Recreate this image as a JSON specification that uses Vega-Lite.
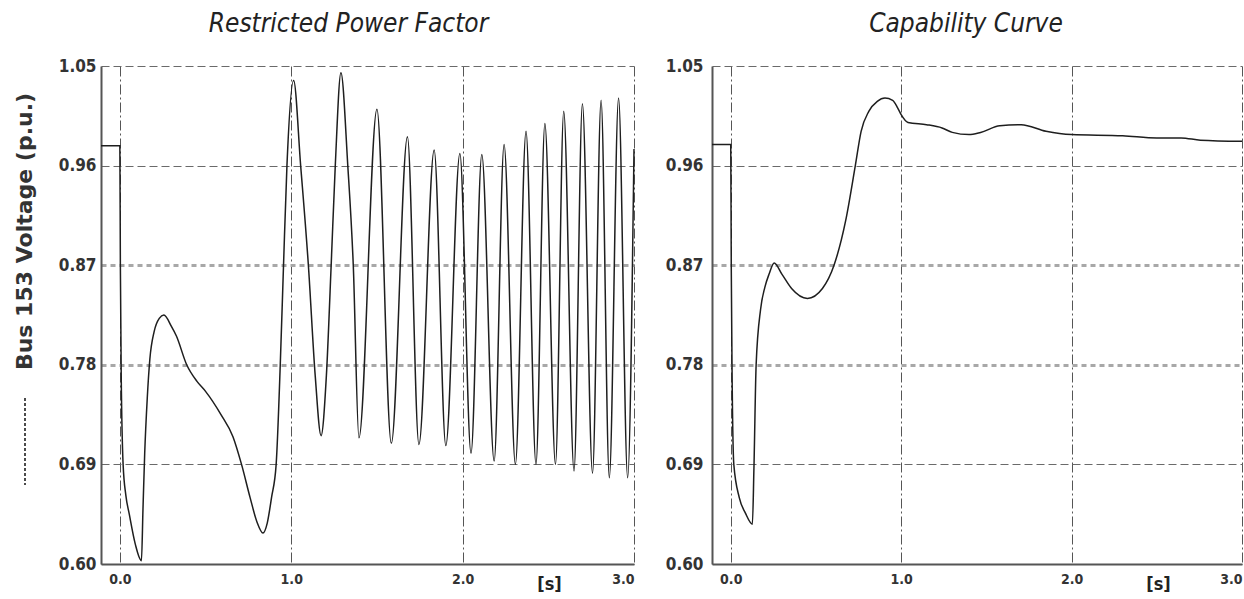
{
  "$schema": "https://vega.github.io/schema/vega-lite/v6.json",
  "background": "white",
  "padding": {"left": 13, "top": 11, "right": 0, "bottom": 0},
  "bounds": "flush",
  "spacing": 78,
  "config": {
    "view": {"stroke": null},
    "title": {"font": "DejaVu Sans Condensed", "fontStyle": "italic", "fontWeight": "normal", "fontSize": 26, "color": "#222222", "anchor": "middle", "offset": 20},
    "axis": {"domainColor": "#555555", "domainWidth": 2, "ticks": false, "gridColor": "#666666", "gridDash": [8, 4], "gridWidth": 1, "labelFont": "DejaVu Sans Condensed", "labelFontWeight": "bold", "labelColor": "#333333"}
  },
  "datasets": {
    "rpf": [
      {"t": -0.11, "v": 0.978}, {"t": 0.0, "v": 0.978}, {"t": 0.003, "v": 0.87}, {"t": 0.008, "v": 0.77},
      {"t": 0.019, "v": 0.69}, {"t": 0.035, "v": 0.662}, {"t": 0.055, "v": 0.645}, {"t": 0.09, "v": 0.618},
      {"t": 0.126, "v": 0.603}, {"t": 0.135, "v": 0.65}, {"t": 0.145, "v": 0.70}, {"t": 0.16, "v": 0.75},
      {"t": 0.175, "v": 0.785}, {"t": 0.2, "v": 0.81}, {"t": 0.23, "v": 0.822}, {"t": 0.257, "v": 0.825},
      {"t": 0.3, "v": 0.815}, {"t": 0.33, "v": 0.806}, {"t": 0.39, "v": 0.78}, {"t": 0.45, "v": 0.765},
      {"t": 0.5, "v": 0.756}, {"t": 0.59, "v": 0.735}, {"t": 0.66, "v": 0.715}, {"t": 0.71, "v": 0.69},
      {"t": 0.76, "v": 0.66}, {"t": 0.8, "v": 0.638}, {"t": 0.835, "v": 0.628}, {"t": 0.86, "v": 0.637},
      {"t": 0.885, "v": 0.66}, {"t": 0.912, "v": 0.69}, {"t": 0.936, "v": 0.78}, {"t": 0.955, "v": 0.87},
      {"t": 0.975, "v": 0.96}, {"t": 1.014, "v": 1.037}, {"t": 1.055, "v": 0.96}, {"t": 1.1, "v": 0.87},
      {"t": 1.14, "v": 0.77}, {"t": 1.174, "v": 0.716}, {"t": 1.205, "v": 0.77}, {"t": 1.233, "v": 0.87},
      {"t": 1.257, "v": 0.96}, {"t": 1.29, "v": 1.044}, {"t": 1.33, "v": 0.96}, {"t": 1.362, "v": 0.87},
      {"t": 1.395, "v": 0.714}, {"t": 1.5, "v": 1.011}, {"t": 1.584, "v": 0.709}, {"t": 1.678, "v": 0.986},
      {"t": 1.745, "v": 0.708}, {"t": 1.834, "v": 0.974}, {"t": 1.902, "v": 0.707}, {"t": 1.984, "v": 0.971},
      {"t": 2.049, "v": 0.700}, {"t": 2.112, "v": 0.970}, {"t": 2.184, "v": 0.693}, {"t": 2.242, "v": 0.979},
      {"t": 2.308, "v": 0.690}, {"t": 2.37, "v": 0.991}, {"t": 2.428, "v": 0.690}, {"t": 2.48, "v": 0.998},
      {"t": 2.542, "v": 0.690}, {"t": 2.59, "v": 1.009}, {"t": 2.65, "v": 0.684}, {"t": 2.699, "v": 1.016},
      {"t": 2.758, "v": 0.682}, {"t": 2.808, "v": 1.019}, {"t": 2.856, "v": 0.678}, {"t": 2.91, "v": 1.021},
      {"t": 2.963, "v": 0.678}, {"t": 3.0, "v": 0.975}
    ],
    "cap": [
      {"t": -0.11, "v": 0.979}, {"t": 0.0, "v": 0.979}, {"t": 0.003, "v": 0.87}, {"t": 0.008, "v": 0.77},
      {"t": 0.018, "v": 0.69}, {"t": 0.05, "v": 0.66}, {"t": 0.086, "v": 0.646}, {"t": 0.127, "v": 0.636},
      {"t": 0.136, "v": 0.686}, {"t": 0.149, "v": 0.78}, {"t": 0.175, "v": 0.83}, {"t": 0.2, "v": 0.85},
      {"t": 0.225, "v": 0.862}, {"t": 0.255, "v": 0.872}, {"t": 0.3, "v": 0.862}, {"t": 0.357, "v": 0.849},
      {"t": 0.45, "v": 0.84}, {"t": 0.538, "v": 0.849}, {"t": 0.606, "v": 0.87}, {"t": 0.674, "v": 0.91},
      {"t": 0.731, "v": 0.96}, {"t": 0.765, "v": 0.991}, {"t": 0.81, "v": 1.009}, {"t": 0.86, "v": 1.018},
      {"t": 0.905, "v": 1.021}, {"t": 0.95, "v": 1.019}, {"t": 0.98, "v": 1.012}, {"t": 1.0, "v": 1.006},
      {"t": 1.04, "v": 0.999}, {"t": 1.149, "v": 0.997}, {"t": 1.24, "v": 0.994}, {"t": 1.3, "v": 0.99},
      {"t": 1.398, "v": 0.988}, {"t": 1.466, "v": 0.99}, {"t": 1.579, "v": 0.996}, {"t": 1.704, "v": 0.997},
      {"t": 1.85, "v": 0.991}, {"t": 2.0, "v": 0.988}, {"t": 2.3, "v": 0.987}, {"t": 2.5, "v": 0.985},
      {"t": 2.643, "v": 0.985}, {"t": 2.756, "v": 0.983}, {"t": 3.0, "v": 0.982}
    ]
  },
  "hconcat": [
    {
      "width": 533,
      "height": 498,
      "title": {"text": "Restricted Power Factor", "dx": -19},
      "data": {"name": "rpf"},
      "mark": {"type": "line", "interpolate": "monotone", "strokeWidth": 1.5},
      "encoding": {
        "x": {
          "field": "t", "type": "quantitative",
          "scale": {"domain": [-0.11, 3.0], "nice": false, "zero": false},
          "axis": {"values": [0, 1, 2, 3], "format": ".1f", "labelFontSize": 14, "labelPadding": 8, "gridDash": [10, 3, 2, 3], "gridColor": "#555555",
                   "title": "[s]", "titleFont": "DejaVu Sans Condensed", "titleFontSize": 18, "titleFontWeight": "bold", "titleColor": "#222222",
                   "titleX": 448, "titleY": 20, "titleBaseline": "middle", "titleAlign": "center"}
        },
        "y": {
          "field": "v", "type": "quantitative",
          "scale": {"domain": [0.6, 1.05], "nice": false, "zero": false},
          "axis": {"values": [0.6, 0.69, 0.78, 0.87, 0.96, 1.05], "format": ".2f", "labelFontSize": 17, "labelPadding": 5,
                   "title": "Bus 153 Voltage (p.u.)", "titleFont": "DejaVu Sans", "titleFontSize": 22, "titleFontWeight": "bold", "titleColor": "#333333",
                   "titleX": -77, "titleY": 165, "titleAngle": -90, "titleAlign": "center", "titleBaseline": "middle",
                   "gridWidth": {"condition": {"test": "datum.value > 0.77 && datum.value < 0.88", "value": 3}, "value": 1.2},
                   "gridColor": {"condition": {"test": "datum.value > 0.77 && datum.value < 0.88", "value": "#a8a8a8"}, "value": "#6a6a6a"},
                   "gridDash": {"condition": {"test": "datum.value > 0.77 && datum.value < 0.88", "value": [5, 4]}, "value": [8, 4]}}
        },
        "color": {
          "datum": "Bus 153 Voltage (p.u.)",
          "scale": {"range": ["#1e1e1e"]},
          "legend": {"orient": "none", "legendX": -77, "legendY": 331, "title": null, "labelExpr": "''", "symbolType": "M-1,-1L-1,1", "symbolSize": 7569, "symbolStrokeWidth": 1.6, "symbolDash": [3, 2], "symbolStrokeColor": "#222222", "padding": 0}
        }
      }
    },
    {
      "width": 530,
      "height": 498,
      "title": {"text": "Capability Curve", "dx": -11},
      "data": {"name": "cap"},
      "mark": {"type": "line", "interpolate": "monotone", "strokeWidth": 1.5, "color": "#1e1e1e"},
      "encoding": {
        "x": {
          "field": "t", "type": "quantitative",
          "scale": {"domain": [-0.11, 3.0], "nice": false, "zero": false},
          "axis": {"values": [0, 1, 2, 3], "format": ".1f", "labelFontSize": 14, "labelPadding": 8, "gridDash": [10, 3, 2, 3], "gridColor": "#555555",
                   "title": "[s]", "titleFont": "DejaVu Sans Condensed", "titleFontSize": 18, "titleFontWeight": "bold", "titleColor": "#222222",
                   "titleX": 446, "titleY": 20, "titleBaseline": "middle", "titleAlign": "center"}
        },
        "y": {
          "field": "v", "type": "quantitative",
          "scale": {"domain": [0.6, 1.05], "nice": false, "zero": false},
          "axis": {"values": [0.6, 0.69, 0.78, 0.87, 0.96, 1.05], "format": ".2f", "labelFontSize": 17, "labelPadding": 9, "title": null,
                   "gridWidth": {"condition": {"test": "datum.value > 0.77 && datum.value < 0.88", "value": 3}, "value": 1.2},
                   "gridColor": {"condition": {"test": "datum.value > 0.77 && datum.value < 0.88", "value": "#a8a8a8"}, "value": "#6a6a6a"},
                   "gridDash": {"condition": {"test": "datum.value > 0.77 && datum.value < 0.88", "value": [5, 4]}, "value": [8, 4]}}
        }
      }
    }
  ]
}
